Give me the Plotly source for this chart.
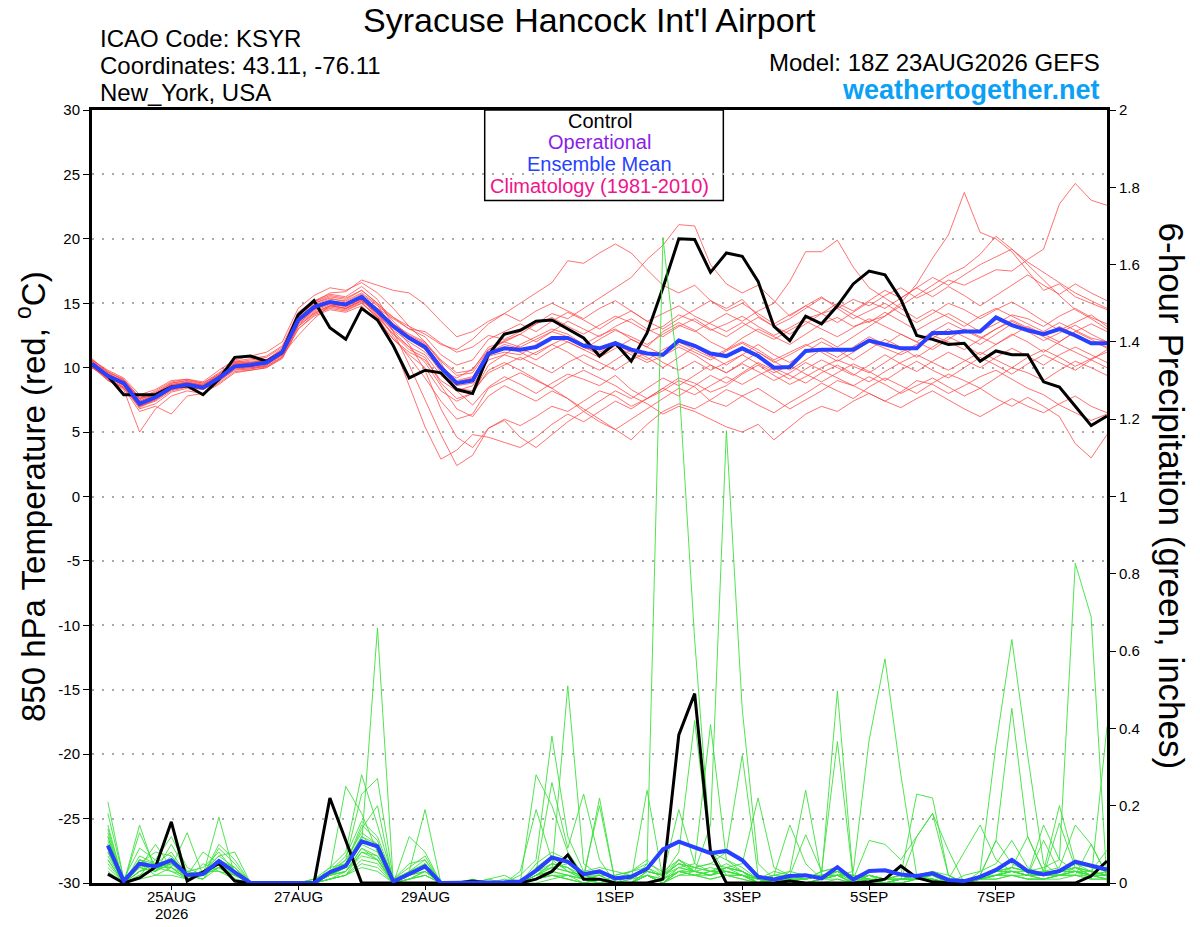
import pandas as pd
import plotly.graph_objects as go

# 6-hourly forecast steps, 18Z 23AUG2026 GEFS run out to 384 h
times = pd.date_range("2026-08-23 18:00", periods=65, freq="6h")

tick_dates = ["2026-08-25", "2026-08-27", "2026-08-29", "2026-09-01",
              "2026-09-03", "2026-09-05", "2026-09-07"]
tick_text = ["25AUG", "27AUG", "29AUG", "1SEP", "3SEP", "5SEP", "7SEP"]
year_label = "2026"

temp_ticks = [30, 25, 20, 15, 10, 5, 0, -5, -10, -15, -20, -25, -30]
precip_ticks = [0, 0.2, 0.4, 0.6, 0.8, 1, 1.2, 1.4, 1.6, 1.8, 2]

# ---- 850 hPa temperature (C), steps 0..64 ----
t_control = [10.26, 9.35, 7.9, 7.9, 7.9, 8.5, 8.6, 7.9, 9.1, 10.8, 10.9, 10.5, 11.2,
             14.1, 15.2, 13.1, 12.2, 14.6, 13.7, 11.7, 9.2, 9.8, 9.6, 8.3, 8.0, 11.0,
             12.6, 12.9, 13.6, 13.7, 13.0, 12.3, 10.9, 11.9, 10.5, 12.7, 16.2, 20.0, 19.95,
             17.4, 18.9, 18.65, 16.7, 13.2, 12.1, 14.0, 13.4, 14.8, 16.5, 17.5, 17.2, 15.3,
             12.5, 12.2, 11.8, 11.9, 10.5, 11.3, 11.0, 11.0, 8.9, 8.5, 7.0, 5.5, 6.25]

t_mean = [10.3, 9.35, 8.8, 7.2, 7.7, 8.45, 8.7, 8.45, 9.2, 10.1, 10.2, 10.4, 11.2,
          13.7, 14.7, 15.1, 14.9, 15.5, 14.4, 13.2, 12.3, 11.6, 10.0, 8.8, 9.0, 11.1,
          11.5, 11.4, 11.6, 12.3, 12.3, 11.7, 11.5, 11.9, 11.4, 11.1, 11.0, 12.1, 11.7,
          11.1, 10.9, 11.5, 10.9, 10.0, 10.05, 11.3, 11.4, 11.4, 11.4, 12.1, 11.8, 11.5,
          11.5, 12.7, 12.7, 12.8, 12.8, 13.9, 13.3, 12.9, 12.6, 13.0, 12.5, 11.9, 11.9]

t_m01 = [10.6, 9.8, 9.2, 7.9, 8.3, 9.0, 9.1, 8.9, 9.8, 10.6, 10.9, 11.2, 12.0,
         14.6, 15.6, 16.2, 16.0, 16.6, 15.8, 14.6, 13.2, 12.0, 10.4, 8.2, 7.1, 8.5,
         9.3, 8.7, 8.0, 8.8, 9.5, 9.1, 8.6, 9.4, 8.3, 7.6, 8.2, 9.0, 8.5,
         7.4, 7.0, 7.8, 8.4, 7.6, 6.8, 7.5, 8.2, 9.0, 8.6, 8.0, 7.4, 8.1,
         9.0, 8.7, 8.0, 8.6, 9.3, 9.8, 9.1, 8.4, 7.9, 7.1, 6.5, 5.9, 6.4]
t_m02 = [10.2, 9.0, 8.5, 7.0, 7.4, 8.2, 8.5, 8.3, 9.0, 10.0, 10.0, 10.2, 11.0,
         13.2, 14.2, 14.8, 14.9, 15.4, 14.6, 13.8, 13.0, 12.8, 11.9, 11.2, 11.6, 12.5,
         12.2, 12.8, 13.4, 13.9, 13.2, 12.6, 13.3, 14.0, 13.5, 12.8, 13.2, 14.1, 13.6,
         12.9, 13.4, 14.0, 13.2, 12.5, 13.1, 13.8, 14.2, 14.6, 15.3, 14.8, 15.6, 16.2,
         15.4, 16.0, 16.8, 16.4, 17.0, 17.6, 17.5, 18.4, 19.2, 22.7, 24.3, 23.0, 22.6]
t_m03 = [10.4, 9.3, 8.6, 6.8, 7.2, 8.1, 8.4, 8.0, 8.9, 9.9, 9.9, 10.1, 10.8,
         13.0, 14.1, 14.6, 14.4, 15.0, 14.0, 12.6, 11.4, 10.8, 8.8, 7.6, 8.0, 10.2,
         11.0, 11.8, 12.4, 13.0, 12.6, 11.8, 12.5, 13.0, 12.2, 11.6, 12.8, 13.5, 12.9,
         12.0, 11.4, 12.3, 13.0, 12.4, 11.8, 12.6, 13.4, 13.9, 13.2, 13.6, 14.0, 15.0,
         16.5, 18.5, 20.3, 23.6, 20.5, 20.0, 19.0, 17.5, 16.0, 16.5, 15.5, 15.0, 14.5]
t_m04 = [10.5, 9.5, 8.9, 7.5, 8.0, 8.7, 8.9, 8.6, 9.4, 10.3, 10.5, 10.6, 11.4,
         13.9, 14.9, 15.3, 15.2, 15.8, 14.9, 12.8, 10.2, 7.5, 4.8, 2.4, 3.2, 5.3,
         6.0, 5.5, 6.2, 7.0, 6.6, 7.4, 8.2, 7.8, 7.0, 7.6, 8.4, 9.2, 8.8,
         8.1, 8.6, 9.5, 10.2, 9.4, 8.7, 9.3, 10.0, 10.6, 10.1, 9.6, 10.4, 11.2,
         11.8, 12.5, 12.0, 11.4, 12.2, 13.0, 13.6, 13.0, 12.4, 11.8, 11.2, 10.6, 10.0]
t_m05 = [10.1, 9.2, 8.7, 7.4, 7.9, 8.6, 8.8, 8.6, 9.3, 10.2, 10.1, 10.3, 11.3,
         14.0, 15.0, 15.4, 15.1, 15.7, 14.8, 13.9, 13.2, 12.6, 11.8, 11.4, 12.2, 13.4,
         14.2, 15.0, 15.8, 16.6, 18.3, 18.1, 18.9, 19.6, 18.9, 17.6, 16.4, 15.8, 16.4,
         15.2, 14.6, 15.3, 14.0, 13.2, 13.8, 14.6, 15.4, 14.8, 14.1, 13.5, 14.3, 13.6,
         12.9, 13.6, 14.2, 13.5, 12.8, 13.4, 14.1, 13.8, 13.2, 14.0, 14.6, 13.9, 13.4]
t_m06 = [10.3, 9.4, 8.9, 7.3, 7.6, 8.4, 8.6, 8.5, 9.1, 10.0, 10.3, 10.5, 11.1,
         13.5, 14.5, 15.0, 14.8, 15.3, 14.1, 12.9, 12.0, 11.2, 9.8, 9.2, 9.9, 11.4,
         12.0, 12.6, 13.4, 14.2, 13.8, 14.6, 15.4, 16.2, 17.0, 18.4, 19.5, 21.1, 21.0,
         18.0, 16.5, 15.8, 16.4, 15.2, 14.0, 14.8, 15.5, 14.6, 13.8, 14.4, 15.0, 14.2,
         13.5, 14.2, 15.0, 14.5, 13.8, 14.5, 15.1, 14.4, 13.6, 12.9, 13.5, 14.1, 13.2]
t_m07 = [10.0, 9.1, 8.4, 6.9, 7.5, 8.3, 8.6, 8.4, 9.0, 9.8, 9.9, 10.2, 11.0,
         13.4, 14.4, 14.9, 14.6, 15.2, 14.2, 12.8, 11.6, 10.4, 8.6, 6.8, 6.2, 7.8,
         8.6, 8.0, 7.4, 8.2, 7.6, 6.8, 6.0, 5.2, 4.4, 5.6, 6.6, 7.2, 6.8,
         7.5, 8.3, 7.8, 7.1, 6.5, 7.3, 8.0, 8.8, 8.2, 7.6, 8.5, 9.2, 8.6,
         8.0, 8.8, 9.5, 9.0, 8.4, 9.2, 10.0, 9.6, 9.0, 9.8, 10.5, 10.0, 9.4]
t_m08 = [10.6, 9.7, 9.0, 7.6, 8.1, 8.8, 9.0, 8.7, 9.5, 10.4, 10.6, 10.8, 11.6,
         14.2, 15.1, 15.6, 15.4, 16.0, 15.0, 13.6, 12.4, 11.5, 9.6, 8.6, 8.8, 10.9,
         11.2, 11.0, 11.8, 12.4, 12.0, 11.4, 12.2, 12.9, 12.4, 11.8, 12.6, 13.3, 12.8,
         13.5, 14.2, 13.6, 14.4, 15.0, 16.7, 19.0, 19.0, 19.9, 17.8, 16.2, 15.4, 14.6,
         13.8, 14.5, 13.9, 13.2, 14.0, 14.6, 14.0, 13.4, 12.8, 13.5, 12.9, 12.3, 12.0]
t_m09 = [10.2, 9.3, 8.6, 7.1, 7.7, 8.5, 8.7, 8.4, 9.1, 10.1, 10.2, 10.4, 11.1,
         13.6, 14.6, 15.0, 14.8, 15.4, 14.3, 13.1, 12.2, 11.4, 9.9, 8.9, 9.2, 11.0,
         11.6, 11.2, 10.6, 11.4, 12.0, 11.4, 10.8, 11.5, 12.2, 11.6, 11.0, 11.8, 11.2,
         10.6, 11.3, 11.9, 11.2, 10.4, 11.0, 11.7, 12.3, 11.6, 12.4, 13.2, 14.0, 14.8,
         15.6, 16.4, 17.2, 17.8, 18.8, 20.2, 19.2, 18.0, 16.8, 15.6, 14.5, 13.8, 13.0]
t_m10 = [10.4, 9.4, 8.8, 7.2, 7.8, 8.6, 8.8, 8.6, 9.3, 10.2, 10.2, 10.4, 11.2,
         13.8, 14.8, 15.2, 15.0, 15.6, 14.6, 13.4, 12.4, 11.8, 10.2, 9.0, 9.3, 11.2,
         11.8, 11.5, 11.0, 11.8, 12.4, 11.6, 11.0, 11.7, 11.0, 10.4, 10.9, 11.6, 11.0,
         10.2, 9.6, 10.3, 9.7, 9.0, 9.6, 10.4, 9.8, 9.2, 8.6, 9.3, 8.7, 8.0,
         8.6, 9.2, 8.5, 7.8, 8.4, 7.6, 7.0, 7.7, 7.0, 6.2, 4.1, 3.0, 4.8]
t_m11 = [10.7, 9.6, 8.8, 7.4, 7.9, 8.6, 8.9, 8.6, 9.4, 10.2, 10.4, 10.6, 11.3,
         13.8, 14.6, 15.0, 14.7, 15.2, 14.2, 12.4, 10.8, 9.2, 7.4, 6.0, 6.4, 8.4,
         9.0, 9.6, 9.0, 8.4, 9.2, 9.8, 9.2, 8.6, 7.8, 7.2, 6.4, 7.0, 6.6,
         6.0, 5.4, 5.0, 5.6, 4.4, 5.4, 6.4, 7.0, 6.6, 7.4, 8.0, 7.4, 6.9,
         7.6, 8.2, 7.5, 6.8, 6.2, 6.9, 7.6, 7.0, 6.5, 7.2, 7.8, 7.0, 6.5]
t_m12 = [10.3, 9.5, 9.0, 7.6, 7.9, 8.7, 8.8, 8.7, 9.4, 10.4, 10.3, 10.6, 11.5,
         14.1, 15.0, 15.5, 15.3, 16.0, 15.0, 13.9, 13.0, 12.4, 11.0, 10.2, 10.6, 12.2,
         12.8, 13.4, 12.8, 13.6, 14.3, 13.7, 13.0, 13.8, 14.4, 13.6, 13.0, 13.8, 14.5,
         15.2, 14.4, 15.0, 14.2, 13.4, 14.1, 14.8, 14.2, 13.5, 14.3, 15.1, 14.6, 15.4,
         16.2, 15.5, 16.3, 15.6, 14.8, 15.6, 16.4, 17.2, 16.4, 15.7, 16.5, 15.8, 15.2]
t_m13 = [10.0, 9.2, 8.7, 7.0, 7.6, 8.3, 8.5, 8.3, 9.0, 9.9, 10.0, 10.1, 10.9,
         13.3, 14.3, 14.8, 14.6, 15.1, 13.8, 12.2, 11.0, 10.0, 8.2, 7.4, 8.0, 9.8,
         10.4, 9.8, 9.1, 8.4, 7.6, 6.6, 5.8, 5.2, 6.0, 6.8, 7.6, 8.4, 7.9,
         8.6, 9.3, 8.7, 9.4, 10.0, 9.4, 8.8, 9.6, 10.2, 9.5, 8.9, 9.7, 10.4,
         11.0, 10.4, 9.8, 10.5, 11.2, 10.6, 10.0, 10.8, 11.4, 10.8, 10.1, 10.7, 11.2]
t_m14 = [10.5, 9.6, 9.1, 7.7, 8.0, 8.8, 9.0, 8.8, 9.5, 10.5, 10.4, 10.5, 11.0,
         12.5, 13.8, 14.8, 14.6, 15.2, 14.4, 13.4, 12.6, 12.0, 10.6, 9.6, 9.8, 11.6,
         12.0, 11.6, 12.2, 12.8, 12.4, 11.6, 11.2, 11.8, 11.2, 10.6, 11.4, 12.0, 11.4,
         10.8, 11.4, 12.0, 11.4, 10.6, 11.2, 11.8, 11.2, 10.5, 11.2, 12.0, 11.5, 11.0,
         11.6, 12.3, 13.0, 12.4, 11.8, 12.6, 13.4, 12.8, 12.1, 12.7, 13.3, 12.6, 12.0]
t_m15 = [10.4, 9.2, 8.5, 7.0, 7.5, 8.3, 8.6, 8.4, 9.1, 10.0, 10.1, 10.3, 11.1,
         13.6, 14.6, 15.1, 14.9, 15.5, 14.5, 13.3, 12.5, 11.9, 10.5, 9.4, 9.6, 11.4,
         12.1, 12.6, 12.0, 12.8, 13.6, 13.0, 12.4, 13.2, 13.8, 13.0, 12.4, 13.2, 13.8,
         13.0, 12.4, 13.2, 13.9, 13.2, 12.6, 13.4, 14.2, 15.0, 14.4, 15.2, 16.0, 15.4,
         16.2, 17.0, 16.4, 17.2, 18.0, 18.6, 19.2, 18.2, 17.4, 16.6, 15.8, 15.2, 14.6]
t_m16 = [10.6, 9.7, 9.1, 7.6, 8.2, 8.9, 9.1, 8.8, 9.6, 10.5, 10.7, 10.9, 11.7,
         14.3, 15.2, 15.7, 15.5, 16.3, 15.3, 13.3, 11.8, 9.8, 6.8, 4.6, 3.8, 5.3,
         5.9, 4.6, 3.8, 4.8, 5.8, 6.6, 7.4, 8.2, 7.6, 8.4, 9.2, 8.6, 9.4,
         10.2, 9.6, 10.4, 11.2, 10.5, 9.8, 10.6, 11.4, 10.8, 11.6, 12.4, 11.8, 12.6,
         12.0, 11.4, 12.2, 13.0, 12.4, 11.8, 12.5, 13.2, 12.6, 12.0, 12.8, 13.4, 12.8]
t_m17 = [10.1, 9.0, 8.3, 5.0, 6.8, 7.8, 8.2, 8.0, 8.7, 9.6, 9.8, 10.0, 10.7,
         13.0, 14.0, 14.5, 14.3, 14.8, 13.6, 12.2, 11.2, 10.6, 9.0, 8.2, 8.6, 10.6,
         11.0, 10.6, 11.2, 11.8, 11.2, 10.4, 9.8, 10.6, 11.4, 10.8, 10.0, 10.8, 11.6,
         10.9, 10.2, 11.0, 11.8, 11.0, 10.4, 11.2, 12.0, 11.4, 10.6, 11.4, 12.2, 11.6,
         10.8, 11.6, 12.4, 11.8, 11.0, 11.8, 12.6, 12.0, 11.2, 12.0, 12.8, 12.2, 11.5]
t_m18 = [10.5, 9.5, 8.8, 7.3, 7.8, 8.6, 8.8, 8.6, 9.3, 10.3, 10.4, 10.6, 11.4,
         14.0, 15.1, 15.8, 15.9, 16.8, 16.4, 16.0, 15.8, 14.9, 13.6, 12.4, 12.8, 13.6,
         14.2, 13.6, 14.4, 15.0, 14.4, 13.8, 14.6, 15.2, 14.4, 13.6, 14.2, 14.8, 14.0,
         13.4, 12.8, 13.5, 12.8, 12.2, 12.9, 13.6, 13.0, 12.4, 13.1, 13.8, 13.2, 12.6,
         12.0, 12.8, 13.5, 12.9, 12.3, 13.0, 13.7, 13.1, 12.5, 13.2, 12.6, 12.0, 11.6]
t_m19 = [10.2, 9.1, 8.4, 6.6, 7.0, 6.4, 7.8, 8.0, 8.8, 9.7, 9.8, 10.0, 10.8,
         13.2, 14.2, 14.7, 14.5, 15.0, 13.9, 12.6, 11.6, 11.0, 9.4, 8.4, 8.2, 9.6,
         10.2, 10.8, 10.2, 9.6, 10.4, 11.0, 10.4, 9.8, 10.6, 11.2, 10.4, 9.8, 10.5,
         9.8, 10.4, 11.0, 10.3, 9.6, 10.2, 9.5, 8.9, 9.6, 10.3, 9.7, 9.0, 9.8,
         10.5, 9.8, 9.2, 10.0, 10.8, 10.2, 9.5, 10.3, 11.0, 10.4, 9.8, 10.6, 11.4]
t_m20 = [10.3, 9.4, 8.7, 7.1, 7.6, 8.4, 8.6, 8.4, 9.1, 10.0, 10.1, 10.3, 11.0,
         13.4, 14.5, 15.0, 14.8, 15.3, 14.0, 11.8, 8.6, 5.4, 2.9, 3.6, 4.8, 4.6,
         4.2, 3.8, 4.6, 5.6, 6.4, 5.8, 6.6, 7.4, 6.8, 7.6, 8.4, 7.8, 8.6,
         9.4, 8.8, 9.6, 10.4, 9.8, 9.1, 9.9, 10.6, 10.0, 9.4, 10.2, 11.0, 10.3,
         9.7, 10.5, 11.2, 10.6, 10.0, 10.8, 11.5, 10.9, 10.2, 11.0, 11.6, 11.0, 10.4]

# ---- 6-hour precipitation (inches), steps 1..64 ----
p_control = [.023, 0, .013, .041, .158, .005, .028, .05, .005, 0, 0, 0, 0, 0, .22, .11,
             0, 0, 0, 0, 0, 0, 0, .005, 0, 0, 0, .01, .03, .073, .01, .01,
             0, 0, 0, .01, .383, .49, .08, 0, 0, 0, 0, .005, 0, 0, 0, 0,
             .003, .01, .044, .014, .003, 0, 0, 0, 0, 0, 0, 0, 0, 0, .018, .057]

p_mean = [.097, .005, .05, .043, .059, .021, .023, .057, .028, 0, 0, 0, 0, 0, .028, .044,
          .108, .095, .004, .023, .043, 0, 0, .002, 0, .002, .004, .032, .066, .055, .023, .03,
          .012, .016, .037, .087, .107, .091, .077, .083, .059, .016, .009, .018, .02, .012, .041, .009,
          .031, .033, .022, .018, .025, .008, .005, .016, .034, .06, .031, .022, .031, .055, .044, .035]

p_m01 = [.15, 0, .06, .05, .08, .02, .03, .07, .04, 0, 0, 0, 0, 0, .02, .05,
         .12, .10, 0, .02, .05, 0, 0, 0, 0, 0, 0, .02, .05, .04, .01, .02,
         0, 0, .02, 0, .03, .02, .01, .02, .01, 0, .02, .15, .05, .01, .02, 0,
         .02, 0, .01, .02, .03, .02, 0, .03, .05, .11, .04, .02, .03, .05, .04, .03]
p_m02 = [.08, 0, .04, .03, .05, .01, .02, .05, .02, 0, 0, 0, 0, 0, .01, .03,
         .08, .06, 0, .01, .03, 0, 0, 0, 0, 0, 0, .28, .20, .08, .02, .01,
         0, 0, .03, .02, .05, .03, .02, .04, .02, 0, 0, .03, .24, .02, .03, 0,
         .01, .01, .01, .02, .02, 0, 0, .02, .03, .04, .12, .03, .04, .15, .10, .02]
p_m03 = [.21, .01, .09, .06, .12, .04, .02, .09, .05, 0, 0, 0, 0, .01, .04, .08,
         .28, .15, .01, .04, .07, 0, 0, 0, .01, 0, .02, .06, .38, .12, .03, .04,
         .03, .02, .04, .01, .06, .04, .03, .05, .03, .01, 0, .02, .125, .03, .04, .01,
         .11, .10, .06, .12, .18, .085, 0, .01, .02, .03, .02, .11, .03, .04, .03, .085]
p_m04 = [.05, 0, .02, .04, .03, .02, .01, .04, .01, 0, 0, 0, 0, 0, .02, .04,
         .10, .66, 0, .02, .04, 0, 0, 0, 0, 0, 0, .01, .03, .51, .05, .02,
         0, .01, .02, 0, .04, .03, .02, .03, .02, 0, 0, .01, .01, .02, .497, .01,
         0, 0, 0, .01, .01, 0, 0, .01, .01, .02, .01, .01, .02, .02, .01, .01]
p_m05 = [.12, 0, .07, .05, .06, .03, .04, .08, .03, 0, 0, 0, 0, 0, .03, .25,
         .18, .08, 0, .03, .19, 0, 0, 0, 0, .01, 0, .03, .26, .09, .23, .06,
         0, 0, .03, .02, .19, .05, .03, .04, .03, .01, 0, .02, .01, .03, .366, .01,
         .02, .01, .01, .01, .02, 0, 0, .02, .11, .05, .03, .02, .155, .04, .03, .02]
p_m06 = [.03, 0, .01, .02, .02, .01, .03, .03, .02, 0, 0, 0, 0, 0, .01, .02,
         .05, .04, 0, .01, .02, 0, 0, 0, 0, 0, 0, .01, .02, .01, 0, .01,
         0, 0, .05, 1.67, 1.3, .63, .09, .02, .01, 0, 0, .01, 0, 0, .01, 0,
         0, 0, .01, .01, .01, 0, 0, .01, .02, .03, .02, .01, .02, .03, .02, .01]
p_m07 = [.10, 0, .05, .08, .07, .02, .01, .06, .04, 0, 0, 0, 0, .01, .03, .06,
         .23, .27, .01, .05, .06, 0, 0, .01, 0, 0, .03, .19, .06, .03, .01, .22,
         0, 0, .02, 0, .03, .02, .01, .02, .02, 0, 0, 0, 0, .01, .02, .03,
         .37, .58, .28, .02, .01, 0, 0, .01, .02, .02, .01, .01, .02, .02, .01, .01]
p_m08 = [.07, 0, .13, .04, .04, .01, .02, .05, .03, 0, 0, 0, 0, 0, .02, .03,
         .09, .07, 0, .02, .04, 0, 0, 0, 0, 0, 0, .02, .04, .03, .02, .03,
         .01, .03, .06, .02, .08, .42, .08, .06, .04, .01, .02, .03, .02, .02, .03, .01,
         .01, 0, .01, .02, .02, .01, 0, .02, .02, .03, .02, .02, .02, .03, .03, .02]
p_m09 = [.18, .01, .04, .03, .10, .03, .02, .10, .06, 0, 0, 0, 0, 0, .04, .05,
         .14, .20, 0, .12, .08, 0, 0, 0, .01, .02, 0, .05, .08, .06, .02, .20,
         0, 0, .02, .01, .03, .03, .02, .04, .03, 0, .01, .01, .01, .02, .02, 0,
         .02, .01, .02, .23, .22, .02, 0, .02, .03, .03, .02, .02, .03, .04, .02, .02]
p_m10 = [.09, 0, .03, .05, .05, .02, .03, .04, .02, 0, 0, 0, 0, 0, .01, .02,
         .06, .05, 0, .01, .02, 0, 0, 0, 0, 0, 0, .01, .02, .02, .01, .01,
         0, .02, .03, .02, .05, .04, .03, .03, .02, .01, 0, .02, .02, .01, .03, .02,
         .01, 0, .01, .12, .18, .02, 0, .01, .02, .04, .03, .02, .02, .03, .02, .03]
p_m11 = [.06, 0, .05, .02, .04, .13, .02, .06, .03, 0, 0, 0, 0, 0, .02, .04,
         .11, .09, 0, .02, .05, 0, 0, 0, 0, 0, 0, .02, .05, .04, .01, .02,
         0, 0, .02, 0, .02, .03, .15, 1.17, .45, .05, .01, .01, .01, .02, .02, 0,
         0, 0, 0, .01, .01, 0, 0, .01, .01, .02, .01, .01, .01, .02, .02, .01]
p_m12 = [.11, 0, .06, .04, .16, .02, .02, .17, .02, 0, 0, 0, 0, 0, .03, .07,
         .16, .12, .01, .03, .06, 0, 0, 0, 0, 0, 0, .03, .04, .05, .02, .01,
         0, 0, .03, .02, .04, .05, .41, .06, .03, .01, 0, .02, .01, .02, .03, .01,
         .02, .01, .02, .02, .02, .01, .08, .15, .06, .03, .02, .15, .06, .03, .02, .02]
p_m13 = [.04, 0, .02, .06, .03, .01, .05, .03, .01, 0, 0, 0, 0, 0, .01, .02,
         .04, .03, 0, .01, .02, 0, 0, 0, 0, 0, 0, 0, .01, .02, 0, 0,
         0, 0, .02, .01, .03, .04, .05, .08, .33, .02, 0, .01, 0, .01, .02, .02,
         .01, 0, .01, .01, .02, 0, .02, .03, .357, .63, .33, .05, .02, .03, .02, .01]
p_m14 = [.13, 0, .15, .03, .06, .02, .03, .07, .08, 0, 0, 0, 0, .01, .02, .06,
         .13, .10, 0, .02, .04, 0, 0, 0, 0, 0, 0, .04, .07, .03, .02, .02,
         .02, .03, .05, .03, .06, .03, .02, .04, .05, .22, .04, .02, .01, .03, .04, 0,
         .02, .01, .02, .02, .02, .01, 0, .02, .11, .452, .12, .03, .02, .04, .03, .02]
p_m15 = [.08, 0, .03, .04, .05, .03, .02, .04, .02, 0, 0, 0, 0, 0, .02, .03,
         .07, .06, 0, .02, .03, 0, 0, 0, 0, 0, 0, .02, .03, .02, .01, 0,
         0, 0, .02, 0, .03, .02, .03, .03, .02, .01, 0, .01, .01, .02, .02, .01,
         .01, 0, .01, .01, .01, 0, 0, .01, .03, .04, .03, .03, .20, .05, .03, .02]
p_m16 = [.10, 0, .04, .10, .04, .02, .08, .05, .03, 0, 0, 0, 0, 0, .03, .05,
         .15, .11, 0, .03, .05, 0, 0, 0, 0, 0, 0, .03, .05, .04, .02, .01,
         0, .01, .24, .01, .04, .03, .02, .04, .03, 0, .02, .01, 0, .01, .02, .02,
         .01, 0, .01, .01, .02, 0, 0, .01, .02, .03, .03, .04, .06, .827, .689, 0]
p_m17 = [.06, 0, .05, .03, .07, .02, .01, .06, .03, 0, 0, 0, 0, 0, .01, .02,
         .08, .07, 0, .01, .03, 0, 0, 0, 0, 0, 0, .01, .02, .01, 0, .01,
         0, 0, .02, 0, .02, .02, .02, .03, .02, 0, 0, 0, 0, .01, .01, 0,
         0, 0, 0, .01, .01, 0, 0, .01, .02, .03, .02, .02, .03, .03, .01, .404]
p_m18 = [.14, 0, .03, .05, .04, .01, .02, .04, .02, 0, 0, 0, 0, 0, .02, .04,
         .10, .08, 0, .02, .05, 0, 0, 0, 0, 0, 0, .02, .03, .02, .01, 0,
         .01, .02, .03, .02, .05, .04, .05, .04, .03, .01, .03, .02, .01, .02, .03, .01,
         .02, .01, .01, .02, .03, .01, 0, .02, .03, .04, .03, .02, .03, .04, .02, .03]
p_m19 = [.09, 0, .06, .04, .05, .02, .03, .05, .04, 0, 0, 0, 0, 0, .02, .03,
         .09, .06, 0, .02, .03, 0, 0, 0, 0, 0, 0, .01, .02, .01, 0, .01,
         0, 0, .02, 0, .03, .02, .03, .02, .02, 0, 0, .01, 0, .01, .02, 0,
         .01, 0, .01, .01, .01, 0, 0, .01, .02, .02, .02, .01, .02, .02, .10, .02]
p_m20 = [.12, 0, .04, .05, .06, .02, .03, .06, .03, 0, 0, 0, 0, 0, .03, .05,
         .12, .09, 0, .02, .04, 0, 0, 0, 0, 0, 0, .02, .04, .03, .01, 0,
         .02, .03, .04, .02, .06, .03, .04, .03, .02, .01, .02, .02, .01, .02, .03, .01,
         .02, .01, .01, .02, .02, .01, 0, .02, .03, .03, .02, .03, .03, .03, .02, .02]

temp_members = [t_m01, t_m02, t_m03, t_m04, t_m05, t_m06, t_m07, t_m08, t_m09, t_m10,
                t_m11, t_m12, t_m13, t_m14, t_m15, t_m16, t_m17, t_m18, t_m19, t_m20]
precip_members = [p_m01, p_m02, p_m03, p_m04, p_m05, p_m06, p_m07, p_m08, p_m09, p_m10,
                  p_m11, p_m12, p_m13, p_m14, p_m15, p_m16, p_m17, p_m18, p_m19, p_m20]

FONT = "Liberation Sans, Arial, Helvetica, sans-serif"
RED = "rgba(255,70,70,0.85)"
GREEN = "rgb(60,225,60)"
BLUE = "rgb(40,64,255)"

fig = go.Figure()

for vals in temp_members:
    fig.add_trace(go.Scatter(x=times[:len(vals)], y=vals, mode="lines",
                             line=dict(color=RED, width=0.9), hoverinfo="skip"))

ptimes = times[1:]
for vals in precip_members:
    fig.add_trace(go.Scatter(x=ptimes[:len(vals)], y=vals, mode="lines", yaxis="y2",
                             line=dict(color=GREEN, width=0.9), hoverinfo="skip"))

# control and mean drawn on top
fig.add_trace(go.Scatter(x=ptimes, y=p_control, mode="lines", yaxis="y2",
                         line=dict(color="black", width=3), hoverinfo="skip"))
fig.add_trace(go.Scatter(x=ptimes, y=p_mean, mode="lines", yaxis="y2",
                         line=dict(color=BLUE, width=4), hoverinfo="skip"))
fig.add_trace(go.Scatter(x=times, y=t_control, mode="lines",
                         line=dict(color="black", width=3), hoverinfo="skip"))
fig.add_trace(go.Scatter(x=times, y=t_mean, mode="lines",
                         line=dict(color=BLUE, width=4), hoverinfo="skip"))

annotations = [
    dict(text="Syracuse Hancock Int'l Airport", x=0.4906, y=1.1164, font=dict(size=34)),
    dict(text="ICAO Code: KSYR", x=0.006, y=1.0925, xanchor="left", font=dict(size=24)),
    dict(text="Coordinates: 43.11, -76.11", x=0.006, y=1.0575, xanchor="left", font=dict(size=24)),
    dict(text="New_York, USA", x=0.006, y=1.0225, xanchor="left", font=dict(size=24)),
    dict(text="Model: 18Z 23AUG2026 GEFS", x=0.9946, y=1.0615, xanchor="right", font=dict(size=24)),
    dict(text="<b>weathertogether.net</b>", x=0.9946, y=1.0255, xanchor="right",
         font=dict(size=27, color="rgb(10,160,245)")),
    # legend box text
    dict(text="Control", x=0.5, y=0.9864, font=dict(size=20)),
    dict(text="Operational", x=0.5, y=0.9586, font=dict(size=20, color="rgb(140,30,230)")),
    dict(text="Ensemble Mean", x=0.5, y=0.9307, font=dict(size=20, color=BLUE)),
    dict(text="Climatology (1981-2010)", x=0.5, y=0.9017, font=dict(size=20, color="rgb(240,20,140)")),
    # axis titles
    dict(text="850 hPa Temperature (red, <sup>o</sup>C)", x=-0.0606, y=0.5, textangle=-90,
         font=dict(size=33)),
    dict(text="6-hour Precipitation (green, inches)", x=1.0640, y=0.5, textangle=90,
         font=dict(size=35)),
]
# date labels placed just under the tick marks, year under the first one
for d, lbl in zip(tick_dates, tick_text):
    annotations.append(dict(text=lbl, xref="x", x=d, y=-0.0181, font=dict(size=15)))
annotations.append(dict(text=year_label, xref="x", x=tick_dates[0], y=-0.0395, font=dict(size=15)))

for a in annotations:
    a.setdefault("xref", "paper")
    a.setdefault("yref", "paper")
    a.setdefault("xanchor", "center")
    a.setdefault("yanchor", "middle")
    a["showarrow"] = False
    a["font"].setdefault("color", "black")
    a["font"]["family"] = FONT

fig.update_layout(
    width=1200, height=927,
    margin=dict(l=92, r=93, t=110, b=44),
    paper_bgcolor="white", plot_bgcolor="white",
    showlegend=False,
    font=dict(family=FONT, size=15, color="black"),
    annotations=annotations,
    shapes=[dict(type="rect", xref="paper", yref="paper",
                 x0=0.3869, x1=0.6220, y0=0.883, y1=1.0,
                 line=dict(color="black", width=1.5), fillcolor="white", layer="below")],
    xaxis=dict(
        type="date", range=[times[0], times[-1]], automargin=False,
        tickvals=tick_dates, showticklabels=False,
        ticks="outside", ticklen=4, tickwidth=1, tickcolor="black",
        showgrid=False, zeroline=False,
        showline=True, linewidth=3, linecolor="black", mirror=True,
    ),
    yaxis=dict(
        range=[-30, 30], automargin=False,
        tickvals=temp_ticks, ticktext=[str(v) for v in temp_ticks],
        ticks="outside", ticklen=6, tickwidth=1, tickcolor="black",
        showgrid=True, gridcolor="rgb(170,170,170)", griddash="2px,8px", gridwidth=1.5,
        zeroline=False, showline=True, linewidth=3, linecolor="black",
        tickfont=dict(size=15),
    ),
    yaxis2=dict(
        range=[0, 2], overlaying="y", side="right", automargin=False,
        tickvals=precip_ticks, ticktext=[f"{v:g}" for v in precip_ticks],
        ticks="outside", ticklen=6, tickwidth=1, tickcolor="black",
        showgrid=False, zeroline=False,
        showline=True, linewidth=3, linecolor="black",
        tickfont=dict(size=15),
    ),
)

# drop the default page margin so the 1200x927 figure fills the window exactly
fig.write_html("out.html", config={"displayModeBar": False},
               post_script="document.body.style.margin='0px';")
